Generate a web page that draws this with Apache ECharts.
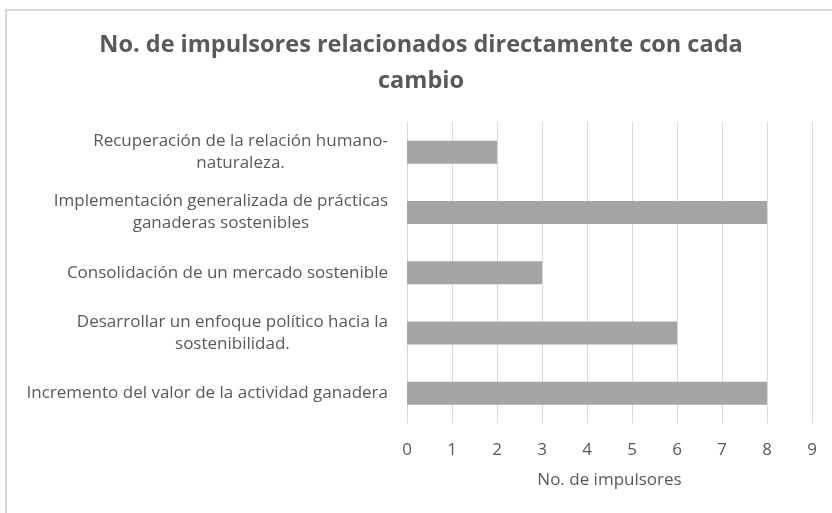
<!DOCTYPE html>
<html>
<head>
<meta charset="utf-8">
<script src="https://cdn.jsdelivr.net/npm/echarts@6/dist/echarts.min.js"></script>
<style>html,body{margin:0;padding:0;background:#fff;}#c{width:832px;height:513px;}</style>
</head>
<body>
<div id="c"></div>
<script>
const titleText = "No. de impulsores relacionados directamente con cada\ncambio";
const categories = [
  "Recuperación de la relación humano-\nnaturaleza.",
  "Implementación generalizada de prácticas\nganaderas sostenibles",
  "Consolidación de un mercado sostenible",
  "Desarrollar un enfoque político hacia la\nsostenibilidad.",
  "Incremento del valor de la actividad ganadera"
];
const values = [2, 8, 3, 6, 8];
const xAxisName = "No. de impulsores";
const xTicks = [0, 1, 2, 3, 4, 5, 6, 7, 8, 9];

const FONT = "Open Sans";
const chart = echarts.init(document.getElementById('c'), null, {renderer: 'canvas'});
chart.setOption({
  animation: false,
  backgroundColor: '#ffffff',
  textStyle: {fontFamily: FONT},
  graphic: [{
    type: 'rect',
    shape: {x: 6, y: 10, width: 900, height: 600},
    style: {fill: 'none', stroke: '#d9d9d9', lineWidth: 2},
    silent: true
  }],
  title: {
    text: titleText,
    left: 421,
    textAlign: 'center',
    top: 27,
    padding: 0,
    textStyle: {fontFamily: FONT, fontSize: 23.5, fontWeight: 'bold', color: '#595959', lineHeight: 36}
  },
  grid: {left: 407, right: 20, top: 122, bottom: 89.5, containLabel: false},
  xAxis: {
    type: 'value',
    min: xTicks[0],
    max: xTicks[xTicks.length - 1],
    interval: 1,
    name: xAxisName,
    nameLocation: 'middle',
    nameGap: 48,
    nameTextStyle: {fontFamily: FONT, fontSize: 17, color: '#595959'},
    axisLine: {show: false},
    axisTick: {show: false},
    axisLabel: {fontFamily: FONT, fontSize: 17, color: '#595959', margin: 18},
    splitLine: {show: true, lineStyle: {color: '#d9d9d9', width: 1}}
  },
  yAxis: {
    type: 'category',
    data: categories,
    inverse: true,
    axisLine: {show: false},
    axisTick: {show: false},
    axisLabel: {
      margin: 19,
      fontFamily: FONT,
      fontSize: 17,
      color: '#595959',
      lineHeight: 22,
      formatter: function (v) {
        return v.split('\n').map(function (s) { return '{c|' + s + '}'; }).join('\n');
      },
      rich: {c: {align: 'center', fontFamily: FONT, fontSize: 17, color: '#595959', lineHeight: 22}}
    }
  },
  series: [{
    type: 'bar',
    data: values,
    barWidth: 23,
    itemStyle: {color: '#a5a5a5'},
    silent: true
  }]
});
</script>
</body>
</html>
